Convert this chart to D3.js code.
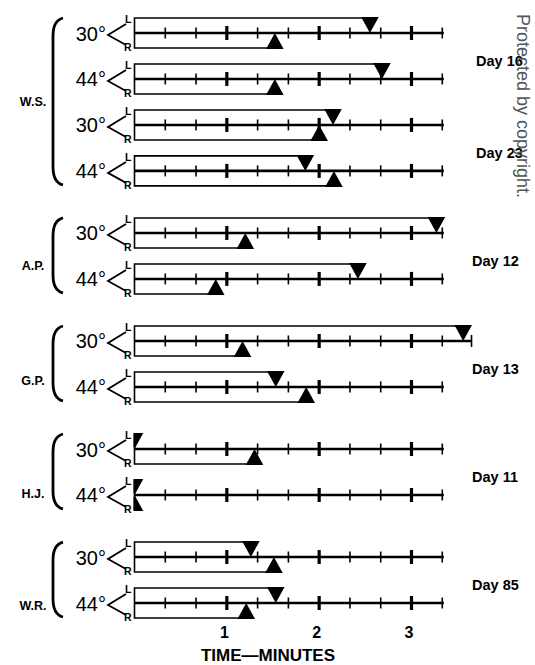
<!DOCTYPE html>
<html><head><meta charset="utf-8">
<script src="https://cdn.jsdelivr.net/npm/d3@7/dist/d3.min.js"></script>
<style>
body{margin:0;background:#fff;}
svg{display:block;}
text{font-family:"Liberation Sans",Arial,sans-serif;fill:#000;}
</style></head><body>
<svg id="c" width="535" height="665"></svg>
<script>
// ---- data ----
const subjects = ["W.S.", "A.P.", "G.P.", "H.J.", "W.R."];
const rowSubject = [0, 0, 0, 0, 1, 1, 2, 2, 3, 3, 4, 4];
const rowAngle = ["30°", "44°", "30°", "44°", "30°", "44°", "30°", "44°", "30°", "44°", "30°", "44°"];
// time (minutes) of left-eye (L, ▼) and right-eye (R, ▲) end points
const leftTimes  = [2.55, 2.68, 2.15, 1.85, 3.27, 2.42, 3.56, 1.53, 0, 0, 1.26, 1.53];
const rightTimes = [1.52, 1.52, 2.00, 2.16, 1.20, 0.88, 1.17, 1.86, 1.30, 0, 1.51, 1.21];
const lineEnds   = [3.35, 3.35, 3.35, 3.35, 3.35, 3.35, 3.65, 3.35, 3.35, 3.35, 3.35, 3.35];
const dayLabels = ["Day 16", "Day 23", "Day 12", "Day 13", "Day 11", "Day 85"];
const dayRows = [[0, 1], [2, 3], [4, 5], [6, 7], [8, 9], [10, 11]];
const axisTicks = [1, 2, 3];
const axisTitle = "TIME—MINUTES";
const watermark = "Protected by copyright.";

// ---- layout ----
const svg = d3.select("#c");
const x = d3.scaleLinear().domain([0, 3]).range([134.5, 134.5 + 277]);
const slot = (i) => i + rowSubject[i] * 0.35;
const y = d3.scaleLinear().domain([0, slot(11)]).range([33, 603]);
const H = 15; // half box height
const subjectLabelShift = [0, 10, 17, 22, 25];

const defs = svg.append("defs");
defs.append("clipPath").attr("id", "clipL").append("rect")
  .attr("x", x(0) - 1).attr("y", 0).attr("width", 500).attr("height", 665);

const rows = d3.range(leftTimes.length).map(i => ({
  i, y: y(slot(i)), L: leftTimes[i], R: rightTimes[i], end: lineEnds[i], angle: rowAngle[i]
}));

const g = svg.append("g");
const rg = g.selectAll("g.row").data(rows).join("g").attr("class", "row");

// box outline (top to L, left edge, bottom to R)
rg.append("path")
  .attr("d", d => `M${x(d.L)},${d.y - H}H${x(0)}V${d.y + H}H${x(d.R)}`)
  .attr("fill", "none").attr("stroke", "#000").attr("stroke-width", 1.6);

// main time line
rg.append("line")
  .attr("x1", x(0)).attr("x2", d => x(d.end))
  .attr("y1", d => d.y).attr("y2", d => d.y)
  .attr("stroke", "#000").attr("stroke-width", 2.6);

// ticks every 20 s
rg.each(function(d) {
  const vals = d3.range(1, Math.floor(d.end * 3 + 1e-6) + 1).map(k => k / 3);
  const tg = d3.select(this);
  vals.forEach(v => {
    const major = Math.abs(v - Math.round(v)) < 1e-6;
    tg.append("line").attr("x1", x(v)).attr("x2", x(v))
      .attr("y1", d.y - (major ? 7 : 5.5)).attr("y2", d.y + (major ? 7 : 5.5))
      .attr("stroke", "#000").attr("stroke-width", major ? 3.2 : 1.6);
  });
  if (d.end > 3.5) {
    tg.append("line").attr("x1", x(d.end)).attr("x2", x(d.end))
      .attr("y1", d.y - 6).attr("y2", d.y + 6).attr("stroke", "#000").attr("stroke-width", 1.6);
  }
});

// markers
const tw = 8.8;
rg.append("path").attr("clip-path", "url(#clipL)")
  .attr("d", d => `M${x(d.L) - tw},${d.y - H - 1}L${x(d.L) + tw},${d.y - H - 1}L${x(d.L)},${d.y}Z`)
  .attr("fill", "#000");
rg.append("path").attr("clip-path", "url(#clipL)")
  .attr("d", d => `M${x(d.R) - tw},${d.y + H + 1}L${x(d.R) + tw},${d.y + H + 1}L${x(d.R)},${d.y}Z`)
  .attr("fill", "#000");

// angle labels with L / R fork
rg.append("text").attr("x", 106).attr("y", d => d.y + 7.5)
  .attr("text-anchor", "end").attr("font-size", 20).text(d => d.angle);
rg.append("path")
  .attr("d", d => `M126,${d.y - 9}L108,${d.y + 2}L126,${d.y + 12}`)
  .attr("fill", "none").attr("stroke", "#000").attr("stroke-width", 1.8);
rg.append("text").attr("x", 125).attr("y", d => d.y - 10)
  .attr("font-size", 10.5).attr("font-weight", "bold").text("L");
rg.append("text").attr("x", 124).attr("y", d => d.y + 18)
  .attr("font-size", 10.5).attr("font-weight", "bold").text("R");

// subject brackets and labels
subjects.forEach((s, si) => {
  const ids = rows.filter(r => rowSubject[r.i] === si);
  const y1 = ids[0].y - H, y2 = ids[ids.length - 1].y + H - 1;
  g.append("path")
    .attr("d", `M63,${y1}C55,${y1 + 2} 53,${y1 + 10} 53,${y1 + 18}L53,${y2 - 18}C53,${y2 - 10} 55,${y2 - 2} 63,${y2}`)
    .attr("fill", "none").attr("stroke", "#000").attr("stroke-width", 2.8);
  const ym = (ids[0].y + ids[ids.length - 1].y) / 2 + subjectLabelShift[si];
  g.append("text").attr("x", 33).attr("y", ym + 4.5)
    .attr("text-anchor", "middle").attr("font-size", 12.5).attr("font-weight", "bold").text(s);
});

// day labels
dayLabels.forEach((t, k) => {
  const [a, b] = dayRows[k];
  const ym = (rows[a].y + rows[b].y) / 2;
  g.append("text").attr("x", k < 2 ? 476 : 472).attr("y", ym + 10)
    .attr("font-size", 14.5).attr("font-weight", "bold").text(t);
});

// bottom axis labels
const ax = g.append("g").attr("transform", "translate(0,627)")
  .call(d3.axisBottom(x).tickValues(axisTicks).tickSize(0).tickPadding(0).tickFormat(d3.format("d")));
ax.select(".domain").remove();
ax.selectAll("text").attr("font-size", 16).attr("font-weight", "bold")
  .attr("font-family", "Liberation Sans, Arial, sans-serif").attr("fill", "#000")
  .attr("dx", -3);
g.append("text").attr("x", 268).attr("y", 661).attr("text-anchor", "middle")
  .attr("font-size", 17).attr("font-weight", "bold").text(axisTitle);

// watermark
svg.append("text").attr("transform", "translate(517,198) rotate(90)")
  .attr("text-anchor", "end").attr("font-size", 18).attr("fill", "#555")
  .style("fill", "#555").text(watermark);
</script></body></html>
